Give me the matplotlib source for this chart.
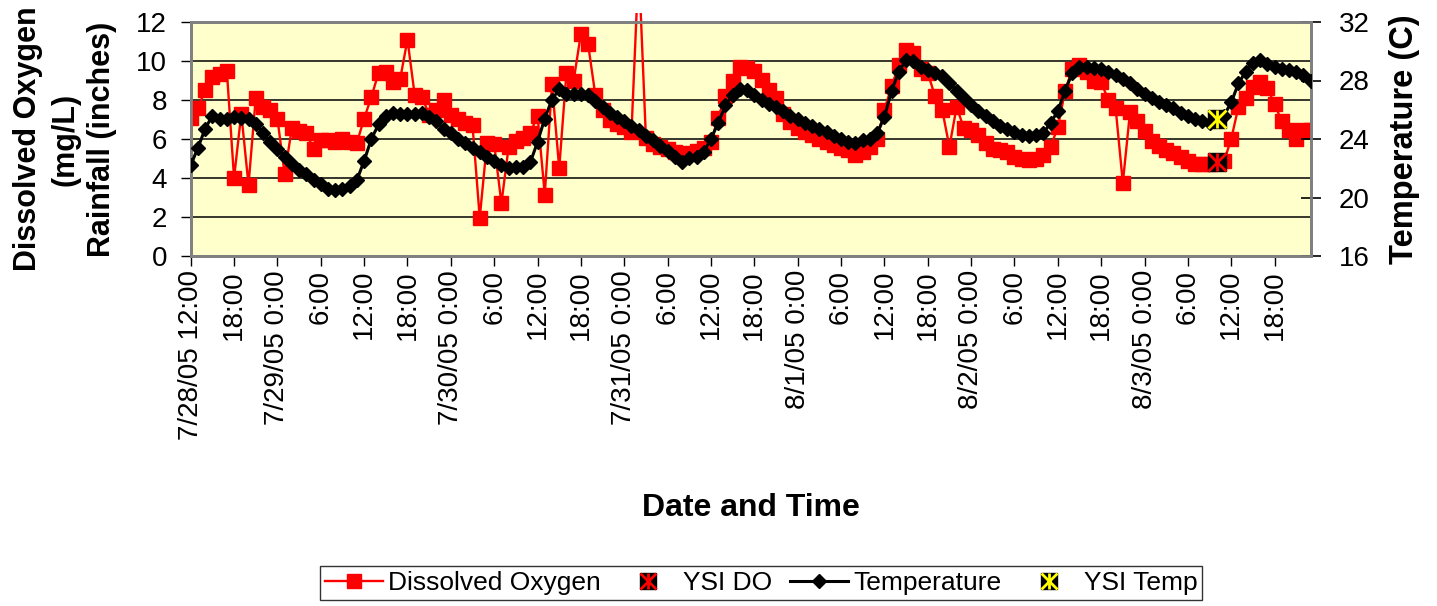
import numpy as np
import matplotlib
matplotlib.use('Agg')
import matplotlib.pyplot as plt
from matplotlib.lines import Line2D
from matplotlib.legend_handler import HandlerTuple
from matplotlib.patches import Rectangle

plt.rcParams['font.family'] = ['Liberation Sans', 'DejaVu Sans']

# ---------------- data ----------------
tick_labels = ["7/28/05 12:00", "18:00", "7/29/05 0:00", "6:00", "12:00", "18:00",
               "7/30/05 0:00", "6:00", "12:00", "18:00", "7/31/05 0:00", "6:00",
               "12:00", "18:00", "8/1/05 0:00", "6:00", "12:00", "18:00",
               "8/2/05 0:00", "6:00", "12:00", "18:00", "8/3/05 0:00", "6:00",
               "12:00", "18:00"]

# hourly readings starting 7/28/05 12:00
dissolved_oxygen = [
    7.1, 7.6, 8.5, 9.2, 9.35, 9.5, 4.0, 7.3, 3.65, 8.1, 7.65, 7.5,
    7.05, 4.2, 6.55, 6.4, 6.3, 5.5, 5.95, 5.95, 5.85, 6.0, 5.85, 5.8,
    7.05, 8.15, 9.4, 9.45, 8.9, 9.1, 11.1, 8.25, 8.15, 7.25, 7.5, 8.0,
    7.25, 7.05, 6.8, 6.7, 1.95, 5.8, 5.75, 2.7, 5.6, 5.9, 6.05, 6.3,
    7.2, 3.15, 8.8, 4.5, 9.4, 9.0, 11.4, 10.85, 8.25, 7.5, 7.0, 6.75,
    6.6, 6.35, 15.0, 6.05, 5.75, 5.6, 5.5, 5.35, 5.25, 5.3, 5.4, 5.55,
    5.85, 7.1, 8.2, 8.95, 9.7, 9.65, 9.5, 9.05, 8.5, 8.1, 7.3, 6.85,
    6.55, 6.35, 6.2, 6.0, 5.85, 5.7, 5.55, 5.45, 5.2, 5.35, 5.6, 6.0,
    7.5, 8.7, 9.8, 10.55, 10.4, 9.6, 9.4, 8.2, 7.5, 5.6, 7.65, 6.55,
    6.45, 6.2, 5.8, 5.5, 5.45, 5.35, 5.1, 4.95, 4.9, 5.0, 5.2, 5.6,
    6.6, 8.45, 9.6, 9.8, 9.45, 9.0, 8.9, 8.0, 7.6, 3.75, 7.4, 6.9,
    6.4, 5.9, 5.65, 5.45, 5.3, 5.1, 4.85, 4.7, 4.7, 4.7, 4.75, 4.85,
    6.0, 7.65, 8.1, 8.65, 8.9, 8.6, 7.8, 6.9, 6.45, 6.0, 6.45, 6.45]

temperature = [
    22.2, 23.4, 24.7, 25.6, 25.4, 25.4, 25.5, 25.45, 25.4, 25.0, 24.4, 23.8,
    23.3, 22.8, 22.3, 21.9, 21.6, 21.2, 20.9, 20.6, 20.5, 20.6, 20.8, 21.2,
    22.5, 24.0, 25.0, 25.6, 25.8, 25.7, 25.7, 25.7, 25.8, 25.5, 25.2, 24.7,
    24.4, 24.0, 23.7, 23.4, 23.1, 22.8, 22.5, 22.2, 22.0, 22.1, 22.1, 22.4,
    23.8, 25.4, 26.7, 27.4, 27.1, 27.1, 27.1, 27.0, 26.6, 26.2, 25.8, 25.5,
    25.2, 24.9, 24.6, 24.2, 23.9, 23.5, 23.2, 22.8, 22.4, 22.7, 22.8, 23.1,
    24.0, 25.1, 26.3, 27.0, 27.4, 27.35, 27.0, 26.7, 26.4, 26.2, 25.9, 25.6,
    25.4, 25.1, 24.9, 24.7, 24.5, 24.2, 24.0, 23.8, 23.7, 23.9, 24.0, 24.4,
    25.5, 27.3, 28.6, 29.4, 29.3, 28.9, 28.7, 28.5, 28.3, 27.8, 27.3, 26.8,
    26.3, 25.9, 25.6, 25.2, 24.9, 24.7, 24.5, 24.3, 24.2, 24.25, 24.4, 25.1,
    25.9, 27.3, 28.5, 28.9, 28.9, 28.85, 28.8, 28.6, 28.4, 28.1, 27.8, 27.4,
    27.1, 26.8, 26.5, 26.3, 26.1, 25.8, 25.6, 25.4, 25.2, 25.1, 25.2, 25.6,
    26.5, 27.8, 28.6, 29.2, 29.4, 29.1, 28.9, 28.8, 28.7, 28.6, 28.4, 28.0]

ysi_hour = [142]
ysi_do = [4.84]
ysi_temp = [25.35]

series_labels = ["Dissolved Oxygen", "YSI DO", "Temperature", "YSI Temp"]

# ---------------- figure ----------------
hours = np.arange(len(dissolved_oxygen))

fig = plt.figure(figsize=(14.37, 6.06), dpi=100)
ax = fig.add_axes([190.7 / 1437, 1 - 256 / 606, 1120 / 1437, 234 / 606])
ax.set_facecolor('#FFFFCC')
ax2 = ax.twinx()

red = '#FF0000'
do_line, = ax.plot(hours, dissolved_oxygen, color=red, lw=1.7, marker='s', ms=9.5,
                   mfc=red, mec=red, zorder=3)
clip_rect = Rectangle((0, -0.02), 1, 1.06, transform=ax.transAxes)
do_line.set_clip_path(clip_rect)

ax.plot(ysi_hour, ysi_do, ls='none', marker='s', ms=13, color='black', zorder=5)
ax.plot(ysi_hour, ysi_do, ls='none', marker='x', ms=13, mew=2, color=red, zorder=6)
ax.plot(ysi_hour, ysi_do, ls='none', marker='|', ms=13, mew=2, color=red, zorder=6)

temp_line, = ax2.plot(hours, temperature, color='black', lw=2.2, marker='D', ms=6.8,
                      zorder=3)
ax2.plot(ysi_hour, ysi_temp, ls='none', marker='s', ms=13, color='black', zorder=5)
ax2.plot(ysi_hour, ysi_temp, ls='none', marker='x', ms=13, mew=2, color='#FFFF00', zorder=6)
ax2.plot(ysi_hour, ysi_temp, ls='none', marker='|', ms=13, mew=2, color='#FFFF00', zorder=6)

ax.set_xlim(0, len(hours) - 1)
ax.set_ylim(0, 12)
ax2.set_ylim(16, 32)
ax.set_yticks(range(0, 13, 2))
ax2.set_yticks([16, 20, 24, 28, 32])
ax.set_xticks(np.arange(0, len(hours), 6))
ax.set_xticklabels(tick_labels, rotation=90)

ax.set_axisbelow(True)
ax.yaxis.grid(True, color='black', lw=1.1)
ax.xaxis.grid(False)

ax.tick_params(axis='y', direction='out', length=7, width=1, labelsize=20, pad=10)
ax.tick_params(axis='x', direction='out', length=7, width=1, labelsize=20, pad=3)
ax2.tick_params(axis='y', direction='inout', length=14, width=1.2, labelsize=20, pad=13)

for a in (ax, ax2):
    for s in a.spines.values():
        s.set_color('#808080')
        s.set_linewidth(2)

fig.text(65 / 1437, 1 - 139 / 606, 'Dissolved Oxygen\n(mg/L)\nRainfall (inches)',
         rotation=90, ha='center', va='center', fontsize=22, fontweight='bold',
         linespacing=1.3)
fig.text(1405 / 1437, 1 - 139 / 606, 'Temperature (C)', rotation=90, ha='center',
         va='center', fontsize=23.5, fontweight='bold')
fig.text(750.7 / 1437, 1 - 508 / 606, 'Date and Time', ha='center', va='center',
         fontsize=23, fontweight='bold')

# legend
h_do = Line2D([], [], color=red, lw=1.7, marker='s', ms=9.5, mfc=red, mec=red)
h_ysido = (Line2D([], [], ls='none', marker='s', ms=11, color='black'),
           Line2D([], [], ls='none', marker='x', ms=11, mew=2, color=red),
           Line2D([], [], ls='none', marker='|', ms=11, mew=2, color=red))
h_temp = Line2D([], [], color='black', lw=2.2, marker='D', ms=6.8)
h_ysitemp = (Line2D([], [], ls='none', marker='s', ms=11, color='black'),
             Line2D([], [], ls='none', marker='x', ms=11, mew=2, color='#FFFF00'),
             Line2D([], [], ls='none', marker='|', ms=11, mew=2, color='#FFFF00'))
leg = fig.legend([h_do, h_ysido, h_temp, h_ysitemp], series_labels, loc='center',
                 bbox_to_anchor=(761 / 1437, 1 - 583 / 606), ncol=4, frameon=True,
                 fancybox=False, edgecolor='black', fontsize=19, handlelength=2.2,
                 handletextpad=0.2, columnspacing=0.7, borderpad=0.2,
                 handler_map={tuple: HandlerTuple(ndivide=1, pad=0)})
leg.get_frame().set_linewidth(1)

fig.savefig('out.png', dpi=100)
